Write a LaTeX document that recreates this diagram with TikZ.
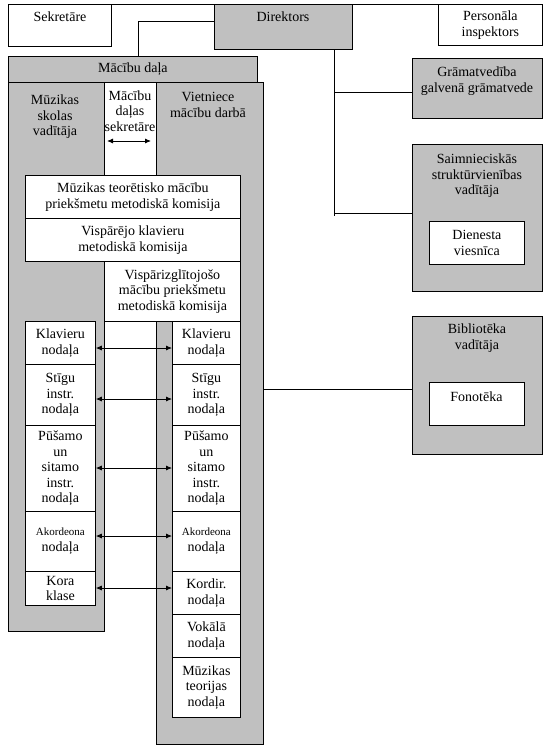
\documentclass[tikz,border=0pt]{standalone}
\usepackage{fontspec}
\setmainfont{Liberation Serif}
\usetikzlibrary{arrows.meta,positioning}
\definecolor{boxgray}{RGB}{192,192,192}
\newcommand{\akfont}{\fontsize{11}{14}\selectfont}
\tikzset{
  every node/.style={font=\fontsize{14}{15.5}\selectfont, align=center, inner sep=0pt},
  gbox/.style={draw, fill=boxgray, anchor=north west, line width=0.8pt},
  wbox/.style={draw, fill=white, anchor=north west, line width=0.8pt},
  conn/.style={line width=0.8pt},
  dbl/.style={conn, {Latex[length=6pt,width=5pt]}-{Latex[length=6pt,width=5pt]}},
}

\begin{document}
\begin{tikzpicture}[x=1pt,y=-1pt]

\fill[white] (0,0) rectangle (548,752);
\useasboundingbox (0,0) rectangle (548,752);

% --- Vadiba ---
\node[wbox, minimum width=103pt, minimum height=42pt] (sek) at (8,4) {};
\node (sekt) at (60,17) {Sekretāre};
\node[gbox, minimum width=138pt, minimum height=45pt] (dir) at (214,4) {};
\node (dirt) at (283,17) {Direktors};
\node[wbox, minimum width=104pt, minimum height=41pt] (pers) at (438,4) {Personāla\\inspektors};

% --- Macibu dala ---
\node[gbox, minimum width=249pt, minimum height=26pt] (mdala) at (8,56) {Mācību daļa};
\node[gbox, minimum width=96pt, minimum height=549pt] (msv) at (8,82) {};
\node (msvt) at (55,117) {Mūzikas\\skolas\\vadītāja};
\node (sekrt) at (130,111) {Mācību\\daļas\\sekretāre};
\node[gbox, minimum width=107pt, minimum height=662pt] (viet) at (156,82) {};
\node (viett) at (208,105) {Vietniece\\mācību darbā};

\node[wbox, minimum width=215pt, minimum height=43pt] (mt) at (25,175)
  {Mūzikas teorētisko mācību\\priekšmetu metodiskā komisija};
\node[wbox, minimum width=215pt, minimum height=43pt] (vk) at (25,218)
  {Vispārējo klavieru\\metodiskā komisija};
\node[wbox, minimum width=136pt, minimum height=60pt] (vz) at (104,261)
  {Vispārizglītojošo\\mācību priekšmetu\\metodiskā komisija};

% --- Nodalas ---
\foreach \n/\y/\h/\txt in {1/321/43/{Klavieru\\nodaļa}, 2/364/61/{Stīgu\\instr.\\nodaļa},
    3/425/86/{Pūšamo\\un\\sitamo\\instr.\\nodaļa}, 4/511/60/{{\akfont Akordeona}\\nodaļa},
    5/571/34/{Kora\\klase}}
  \node[wbox, minimum width=70pt, minimum height=\h pt] (l\n) at (25,\y) {\txt};

\foreach \n/\y/\h/\txt in {1/321/43/{Klavieru\\nodaļa}, 2/364/61/{Stīgu\\instr.\\nodaļa},
    3/425/86/{Pūšamo\\un\\sitamo\\instr.\\nodaļa}, 4/511/60/{{\akfont Akordeona}\\nodaļa},
    5/571/43/{Kordir.\\nodaļa}, 6/614/43/{Vokālā\\nodaļa}, 7/657/60/{Mūzikas\\teorijas\\nodaļa}}
  \node[wbox, minimum width=68pt, minimum height=\h pt] (r\n) at (172,\y) {\txt};

\foreach \n/\y in {1/348, 2/399, 3/468, 4/536, 5/588} {
  \coordinate (ay) at (0,\y);
  \draw[dbl] (l\n.east |- ay) -- (r\n.west |- ay);
}

\coordinate (sa) at (107,141);
\coordinate (sb) at (151,141);
\draw[dbl] (sa) -- (sb);

% --- Labaja puse ---
\node[gbox, minimum width=130pt, minimum height=60pt] (gram) at (412,58) {};
\node (gramt) at (477,81) {Grāmatvedība\\galvenā grāmatvede};
\node[gbox, minimum width=130pt, minimum height=147pt] (saim) at (412,144) {};
\node (saimt) at (477,176) {Saimnieciskās\\struktūrvienības\\vadītāja};
\node[wbox, minimum width=95pt, minimum height=43pt] (dien) at (429,221) {Dienesta\\viesnīca};
\node[gbox, minimum width=130pt, minimum height=138pt] (bibl) at (412,316) {};
\node (biblt) at (477,338) {Bibliotēka\\vadītāja};
\node[wbox, minimum width=95pt, minimum height=43pt] (fono) at (429,382) {};
\node (fonot) at (476.5,397) {Fonotēka};

% --- Savienojumi ---
\draw[conn] (sek.north east) -- (dir.north west);
\draw[conn] (dir.north east) -- (pers.north west);
\coordinate (md) at (138,56);
\draw[conn] ([yshift=-17pt]dir.north west) -| (md);

\coordinate (spine) at (334,216);
\coordinate (g1) at (334,92);
\coordinate (s1) at (334,213);
\draw[conn] (dir.south -| spine) -- (spine);
\draw[conn] (g1) -- (g1 -| gram.west);
\draw[conn] (s1) -- (s1 -| saim.west);

\coordinate (b1) at (263,389);
\draw[conn] (b1) -- (b1 -| bibl.west);

\end{tikzpicture}
\end{document}
